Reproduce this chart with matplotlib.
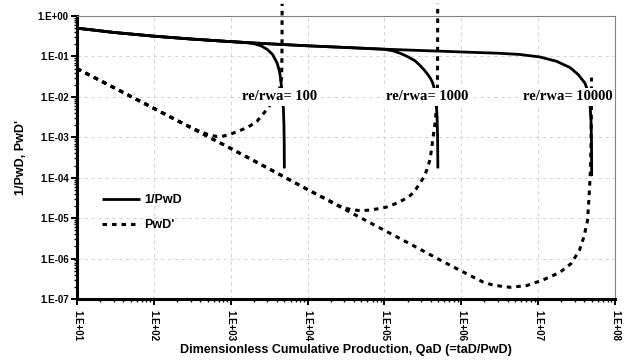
import math
import matplotlib.pyplot as plt
from matplotlib.ticker import FixedLocator, LogLocator, FuncFormatter, NullFormatter

# 1/PwD against QaD for each re/rwa (solid lines)
q_inv_100 = [10, 30, 100, 300, 1e3, 1500, 2000, 2500, 3000, 3500, 4000, 4300, 4450, 4600,
             4750, 4850, 4930, 4970, 4990]
inv_pwd_100 = [0.500, 0.392, 0.317, 0.270, 0.232, 0.222, 0.207, 0.182, 0.148, 0.112, 0.070,
               0.044, 0.029, 0.017, 0.0090, 0.0050, 0.0020, 0.0007, 0.00017]

q_inv_1000 = [10, 30, 100, 300, 1e3, 3e3, 1e4, 3e4, 1e5, 1.3e5, 1.6e5, 2.0e5, 2.5e5, 2.9e5,
              3.3e5, 3.7e5, 4.0e5, 4.25e5, 4.45e5, 4.6e5, 4.75e5, 4.85e5, 4.92e5, 4.96e5]
inv_pwd_1000 = [0.500, 0.392, 0.317, 0.270, 0.232, 0.206, 0.183, 0.167, 0.150, 0.137, 0.120,
                0.099, 0.078, 0.060, 0.046, 0.035, 0.028, 0.022, 0.016, 0.011, 0.006, 0.003,
                0.001, 0.00017]

q_inv_10000 = [10, 30, 100, 300, 1e3, 3e3, 1e4, 3e4, 1e5, 3e5, 1e6, 3e6, 5.7e6, 1.05e7,
               1.73e7, 2.6e7, 3.3e7, 4.06e7, 4.5e7, 4.75e7, 4.88e7, 4.95e7, 4.98e7]
inv_pwd_10000 = [0.500, 0.392, 0.317, 0.270, 0.232, 0.206, 0.183, 0.167, 0.151, 0.140, 0.129,
                 0.120, 0.112, 0.097, 0.076, 0.053, 0.036, 0.022, 0.013, 0.006, 0.0025,
                 0.0008, 0.00011]

# PwD' against QaD for each re/rwa (dashed lines)
q_der_100 = [10, 30, 100, 200, 350, 500, 650, 800, 1000, 1300, 1700, 2200, 2800, 3300, 3800,
             4300, 4600, 4640, 4660, 4670]
pwd_der_100 = [5.0e-2, 1.7e-2, 5.2e-3, 2.6e-3, 1.55e-3, 1.18e-3, 1.05e-3, 1.07e-3, 1.2e-3,
               1.45e-3, 1.8e-3, 2.5e-3, 4.3e-3, 6.5e-3, 1.0e-2, 1.5e-2, 3e-2, 0.1, 0.5, 2.0]

q_der_1000 = [10, 30, 100, 300, 1e3, 3e3, 1e4, 2.0e4, 2.9e4, 3.9e4, 5.0e4, 6.4e4, 8.5e4,
              1.09e5, 1.37e5, 1.74e5, 2.2e5, 2.57e5, 2.9e5, 3.3e5, 3.6e5, 3.85e5, 4.05e5,
              4.3e5, 4.55e5, 4.7e5, 4.85e5, 4.9e5, 4.92e5, 4.93e5, 4.94e5]
pwd_der_1000 = [5.0e-2, 1.7e-2, 5.2e-3, 1.75e-3, 5.3e-4, 1.75e-4, 5.1e-5, 2.6e-5, 1.8e-5,
                1.6e-5, 1.53e-5, 1.58e-5, 1.72e-5, 1.9e-5, 2.25e-5, 2.8e-5, 3.7e-5, 5.2e-5,
                7.3e-5, 1.07e-4, 1.65e-4, 2.5e-4, 4.2e-4, 1.0e-3, 2.2e-3, 4.0e-3, 1.0e-2,
                2.0e-2, 0.1, 0.5, 2.0]

q_der_10000 = [10, 30, 100, 300, 1e3, 3e3, 1e4, 3e4, 1e5, 3e5, 5.2e5, 7.1e5, 1.18e6, 1.9e6,
               2.6e6, 4.3e6, 7.1e6, 1.15e7, 1.9e7, 2.7e7, 3.45e7, 3.95e7, 4.4e7, 4.6e7,
               4.8e7, 4.88e7, 4.93e7, 4.95e7]
pwd_der_10000 = [5.0e-2, 1.7e-2, 5.2e-3, 1.75e-3, 5.3e-4, 1.75e-4, 5.1e-5, 1.68e-5, 5.0e-6,
                 1.65e-6, 9.4e-7, 6.9e-7, 4.2e-7, 2.65e-7, 2.2e-7, 1.95e-7, 2.15e-7, 2.95e-7,
                 4.5e-7, 7.6e-7, 1.6e-6, 3.5e-6, 8.9e-6, 3.4e-5, 1.55e-4, 8e-4, 4e-3, 3e-2]

# boundary labels and where they sit
ratio_labels = ['re/rwa= 100', 're/rwa= 1000', 're/rwa= 10000']
ratio_label_q = [4.3e3, 3.6e5, 2.4e7]

# decade ticks on both axes
x_decades = [1e1, 1e2, 1e3, 1e4, 1e5, 1e6, 1e7, 1e8]
y_decades = [1e-7, 1e-6, 1e-5, 1e-4, 1e-3, 1e-2, 1e-1, 1e0]

sans = 'Liberation Sans'
serif = 'Liberation Serif'

fig = plt.figure(figsize=(6.29, 3.6), dpi=100)
ax = fig.add_axes([0.1224, 0.1694, 0.8553, 0.7862])
ax.set_xscale('log')
ax.set_yscale('log')
ax.set_xlim(1e1, 1e8)
ax.set_ylim(1e-7, 1e0)

solid_kw = dict(color='black', lw=2.0, solid_capstyle='butt')
dash_kw = dict(color='black', lw=2.2, linestyle=(0, (1.5, 1.6)), dash_capstyle='butt', clip_on=False)

ax.plot(q_inv_100, inv_pwd_100, label='1/PwD', **solid_kw)
ax.plot(q_inv_1000, inv_pwd_1000, **solid_kw)
ax.plot(q_inv_10000, inv_pwd_10000, **solid_kw)
ax.plot(q_der_100, pwd_der_100, label="PwD'", **dash_kw)
ax.plot(q_der_1000, pwd_der_1000, **dash_kw)
ax.plot(q_der_10000, pwd_der_10000, **dash_kw)

for txt, q in zip(ratio_labels, ratio_label_q):
    ax.text(q, 1e-2, txt, ha='center', va='center', family=serif, fontweight='bold',
            fontsize=10.5, zorder=5,
            bbox=dict(boxstyle='square,pad=0.15', facecolor='white', edgecolor='none'))

# faint decade grid
ax.set_axisbelow(True)
ax.grid(True, which='major', color='#c4c4c4', lw=0.5, linestyle=(0, (5, 5)))

# axis frame: heavy left/bottom, thin grey top/right
for side in ['left', 'bottom']:
    ax.spines[side].set_linewidth(2.2)
    ax.spines[side].set_color('black')
for side in ['top', 'right']:
    ax.spines[side].set_linewidth(0.8)
    ax.spines[side].set_color('#808080')

fmt = FuncFormatter(lambda v, pos: '1.E{:+03d}'.format(int(round(math.log10(v)))))
ax.xaxis.set_major_locator(FixedLocator(x_decades))
ax.yaxis.set_major_locator(FixedLocator(y_decades))
ax.xaxis.set_minor_locator(LogLocator(base=10, subs=range(2, 10), numticks=100))
ax.yaxis.set_minor_locator(LogLocator(base=10, subs=range(2, 10), numticks=100))
ax.xaxis.set_major_formatter(fmt)
ax.yaxis.set_major_formatter(fmt)
ax.xaxis.set_minor_formatter(NullFormatter())
ax.yaxis.set_minor_formatter(NullFormatter())

ax.tick_params(which='major', direction='out', length=4, width=1.4, pad=2)
ax.tick_params(axis='x', which='major', pad=4)
ax.tick_params(which='minor', direction='out', length=2.5, width=1.0)
ax.tick_params(top=False, right=False, which='both')

for lab in ax.get_xticklabels():
    lab.set_rotation(270)
    lab.set_fontfamily(sans)
    lab.set_fontweight('bold')
    lab.set_fontsize(7)
for lab in ax.get_yticklabels():
    lab.set_fontfamily(sans)
    lab.set_fontweight('bold')
    lab.set_fontsize(7)

ax.set_xlabel('Dimensionless Cumulative Production, QaD (=taD/PwD)',
              family=sans, fontweight='bold', fontsize=9)
ax.set_ylabel("1/PwD, PwD'", family=sans, fontweight='bold', fontsize=9)
ax.xaxis.set_label_coords(0.5, -0.158)
ax.yaxis.set_label_coords(-0.092, 0.5)

ax.legend(loc='upper left', bbox_to_anchor=(0.046, 0.37), frameon=False,
          prop=dict(family=sans, weight='bold', size=9), handlelength=3.1,
          handletextpad=0.3, borderpad=0, borderaxespad=0, labelspacing=1.05)

plt.savefig('out.png', dpi=100)
